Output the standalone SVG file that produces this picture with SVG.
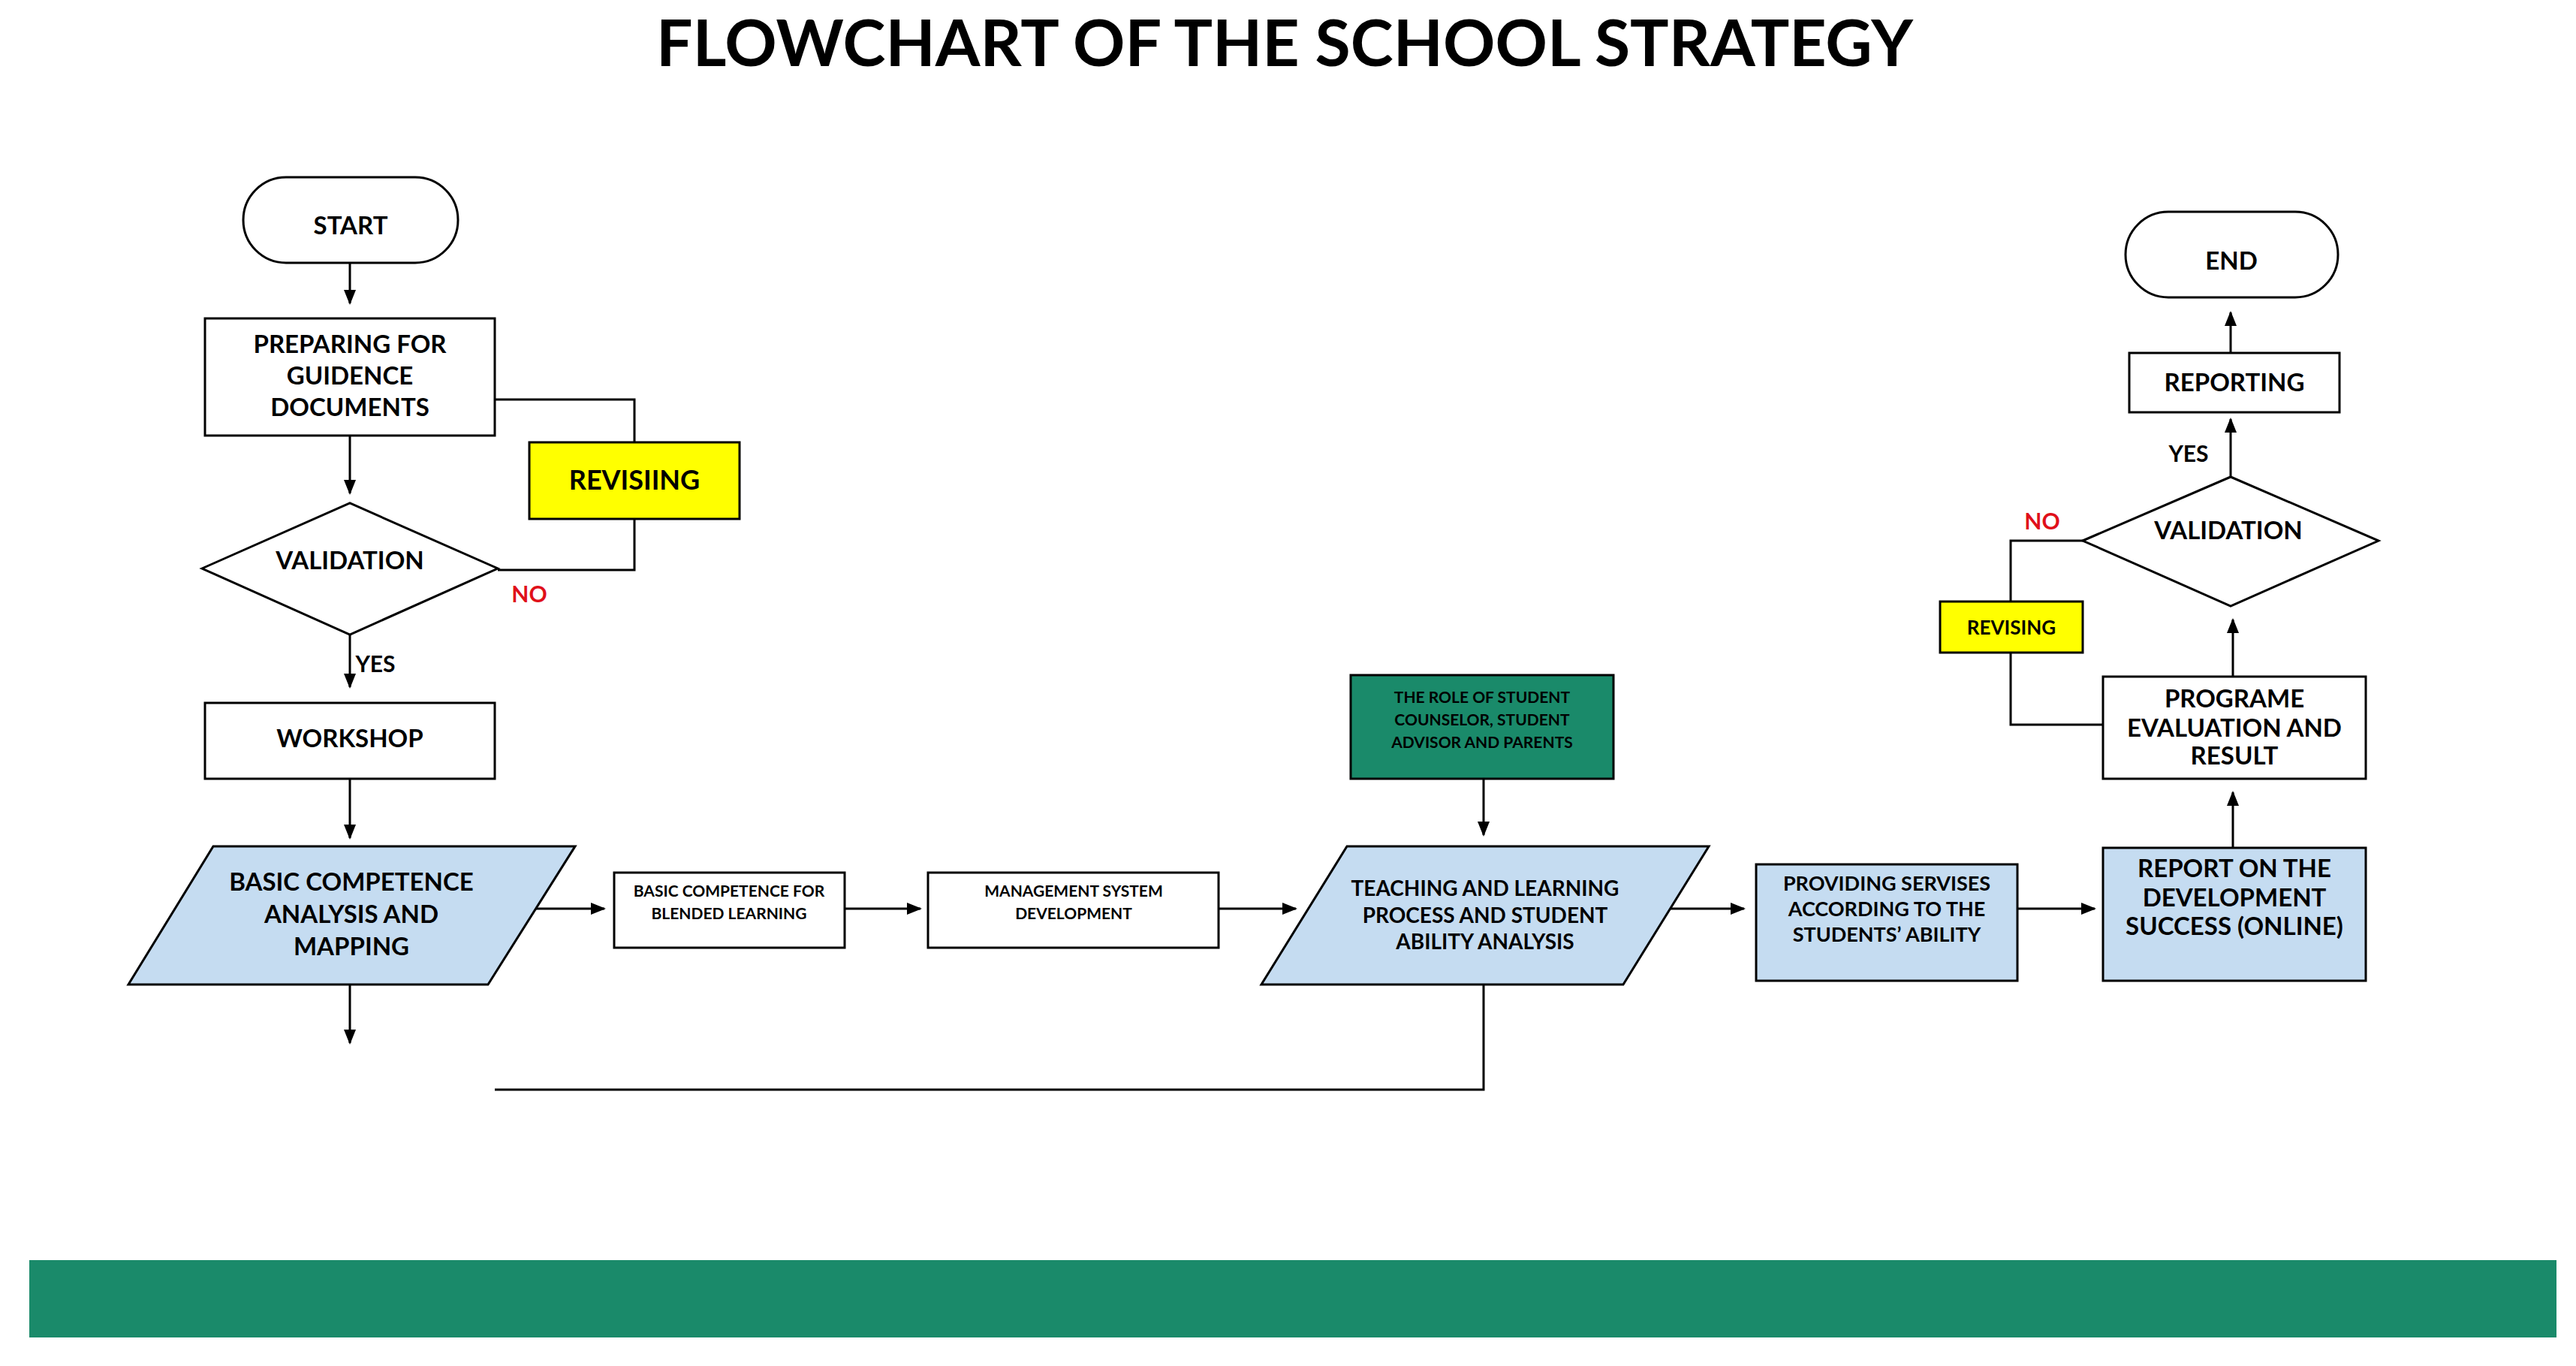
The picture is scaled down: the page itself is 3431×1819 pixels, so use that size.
<svg xmlns="http://www.w3.org/2000/svg" width="3431" height="1819" viewBox="0 0 3431 1819">
<defs>
<marker id="ah" viewBox="0 0 10 10" refX="10" refY="5" markerWidth="7" markerHeight="7" markerUnits="userSpaceOnUse" orient="auto"><path d="M0,0 L10,5 L0,10 z" fill="#000"/></marker>
<marker id="a" viewBox="0 0 10 10" refX="9" refY="5" markerWidth="20" markerHeight="20" markerUnits="userSpaceOnUse" orient="auto"><path d="M0,1 L10,5 L0,9 z" fill="#000"/></marker>
<style>
.s{fill:#fff;stroke:#000;stroke-width:3}
.b{fill:#c5dcf1;stroke:#000;stroke-width:3}
.y{fill:#ffff00;stroke:#000;stroke-width:3}
.g{fill:#1a8a6a;stroke:#000;stroke-width:3}
text{font-family:Lato,"Open Sans","Liberation Sans",sans-serif;font-weight:bold;text-anchor:middle;fill:#000}
.t{font-size:33px}
.sm{font-size:21px}
.c{fill:none;stroke:#000;stroke-width:3}
.ar{fill:none;stroke:#000;stroke-width:3;marker-end:url(#a)}
</style>
</defs>
<rect width="3431" height="1819" fill="#fff"/>
<text x="1711" y="88" style="font-size:86px">FLOWCHART OF THE SCHOOL STRATEGY</text>

<g id="connectors">
<line class="ar" x1="466" y1="350" x2="466" y2="404"/>
<line class="ar" x1="466" y1="580" x2="466" y2="657"/>
<polyline class="c" points="659,532 845,532 845,589"/>
<polyline class="c" points="845,691 845,759 663,759"/>
<line class="ar" x1="466" y1="845" x2="466" y2="915"/>
<line class="ar" x1="466" y1="1037" x2="466" y2="1116"/>
<line class="ar" x1="711" y1="1210" x2="805" y2="1210"/>
<line class="ar" x1="1125" y1="1210" x2="1226" y2="1210"/>
<line class="ar" x1="1623" y1="1210" x2="1726" y2="1210"/>
<line class="ar" x1="1976" y1="1037" x2="1976" y2="1112"/>
<line class="ar" x1="2221" y1="1210" x2="2323" y2="1210"/>
<line class="ar" x1="2687" y1="1210" x2="2790" y2="1210"/>
<line class="ar" x1="2974" y1="1129" x2="2974" y2="1055"/>
<line class="ar" x1="2974" y1="901" x2="2974" y2="825"/>
<polyline class="c" points="2774,720 2678,720 2678,801"/>
<polyline class="c" points="2678,869 2678,965 2801,965"/>
<line class="ar" x1="2971" y1="635" x2="2971" y2="558"/>
<line class="ar" x1="2971" y1="470" x2="2971" y2="416"/>
<line class="ar" x1="466" y1="1311" x2="466" y2="1389"/>
<polyline class="c" points="659,1451 1976,1451 1976,1311"/>
</g>

<g id="start"><rect class="s" x="324" y="236" width="286" height="114" rx="57"/><text class="t" x="467" y="312">START</text></g>
<g id="preparing"><rect class="s" x="273" y="424" width="386" height="156"/><text class="t" x="466" y="470">PREPARING  FOR</text><text class="t" x="466" y="512">GUIDENCE</text><text class="t" x="466" y="554">DOCUMENTS</text></g>
<g id="revisiing"><rect class="y" x="705" y="589" width="280" height="102"/><text x="845" y="652" style="font-size:36px">REVISIING</text></g>
<g id="validation1"><polygon class="s" points="269,757 466,670 663,757 466,845"/><text class="t" x="466" y="758">VALIDATION</text></g>
<text x="705" y="802" style="font-size:30px;fill:#e0101a">NO</text>
<text x="500" y="895" style="font-size:30px">YES</text>
<g id="workshop"><rect class="s" x="273" y="936" width="386" height="101"/><text class="t" x="466" y="995">WORKSHOP</text></g>
<g id="basic-analysis"><polygon class="b" points="284,1127 766,1127 650,1311 171,1311"/><text class="t" x="468" y="1186">BASIC COMPETENCE</text><text class="t" x="468" y="1229">ANALYSIS AND</text><text class="t" x="468" y="1272">MAPPING</text></g>
<g id="blended"><rect class="s" x="818" y="1162" width="307" height="100"/><text class="sm" x="971" y="1194">BASIC  COMPETENCE  FOR</text><text class="sm" x="971" y="1224">BLENDED  LEARNING</text></g>
<g id="management"><rect class="s" x="1236" y="1162" width="387" height="100"/><text class="sm" x="1430" y="1194">MANAGEMENT  SYSTEM</text><text class="sm" x="1430" y="1224">DEVELOPMENT</text></g>
<g id="role"><rect class="g" x="1799" y="899" width="350" height="138"/><text class="sm" x="1974" y="936">THE ROLE OF STUDENT</text><text class="sm" x="1974" y="966">COUNSELOR,  STUDENT</text><text class="sm" x="1974" y="996">ADVISOR  AND PARENTS</text></g>
<g id="teaching"><polygon class="b" points="1794,1127 2276,1127 2162,1311 1680,1311"/><text class="sm" x="1978" y="1193" style="font-size:28px">TEACHING AND LEARNING</text><text x="1978" y="1229" style="font-size:28px">PROCESS AND STUDENT</text><text x="1978" y="1264" style="font-size:28px">ABILITY ANALYSIS</text></g>
<g id="providing"><rect class="b" x="2339" y="1151" width="348" height="155"/><text x="2513" y="1186" style="font-size:27px">PROVIDING SERVISES</text><text x="2513" y="1220" style="font-size:27px">ACCORDING TO THE</text><text x="2513" y="1254" style="font-size:27px">STUDENTS’  ABILITY</text></g>
<g id="report"><rect class="b" x="2801" y="1129" width="350" height="177"/><text class="t" x="2976" y="1168">REPORT ON THE</text><text class="t" x="2976" y="1207">DEVELOPMENT</text><text class="t" x="2976" y="1245">SUCCESS (ONLINE)</text></g>
<g id="programe"><rect class="s" x="2801" y="901" width="350" height="136"/><text class="t" x="2976" y="942">PROGRAME</text><text class="t" x="2976" y="981">EVALUATION AND</text><text class="t" x="2976" y="1018">RESULT</text></g>
<g id="revising"><rect class="y" x="2584" y="801" width="190" height="68"/><text x="2679" y="845" style="font-size:26px">REVISING</text></g>
<g id="validation2"><polygon class="s" points="2774,720 2971,635 3168,720 2971,807"/><text class="t" x="2968" y="718">VALIDATION</text></g>
<text x="2720" y="705" style="font-size:30px;fill:#e0101a">NO</text>
<text x="2915" y="615" style="font-size:30px">YES</text>
<g id="reporting"><rect class="s" x="2836" y="470" width="280" height="79"/><text class="t" x="2976" y="521">REPORTING</text></g>
<g id="end"><rect class="s" x="2831" y="282" width="283" height="114" rx="57"/><text class="t" x="2972" y="359">END</text></g>
<rect x="39" y="1678" width="3366" height="103" fill="#1a8a6a"/>
</svg>
